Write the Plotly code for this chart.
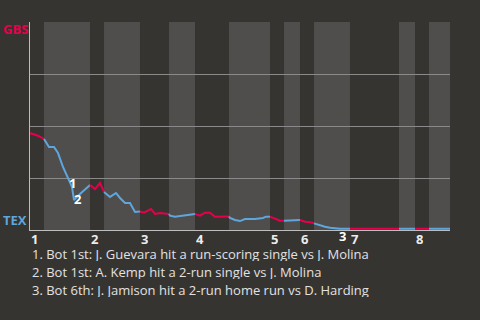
import plotly.graph_objects as go

# Half-inning boundaries (play index units); top halves = GBS batting, bottom halves = TEX batting
half_starts = [0.0, 3.0, 12.86, 15.86, 23.57, 29.79, 35.36, 42.64, 51.43, 54.43, 57.86, 60.86, 68.57, 79.07, 82.5, 85.5]
game_end = 90.0
inning_labels = ["1", "2", "3", "4", "5", "6", "7", "8"]

# GBS win probability by play
play_x = [0.0, 0.64, 1.71, 2.79, 3.0,
          3.21, 4.07, 5.14, 6.0, 7.07, 8.14, 9.0, 9.43, 10.71, 12.86,
          13.93, 15.0, 15.86,
          17.14, 18.43, 19.29, 20.36, 21.43, 22.5, 23.57,
          24.43, 25.07, 25.93, 26.79, 27.86, 29.79,
          30.0, 31.07, 33.21, 34.29, 35.36,
          36.43, 37.5, 38.57, 39.64, 41.36, 42.64,
          42.86, 43.93, 45.0, 46.07, 48.21, 49.93, 50.57, 51.43,
          52.5, 53.57, 54.43,
          56.79, 57.86,
          58.93, 60.0, 60.86,
          62.14, 63.21, 64.29, 65.36, 66.43, 68.57,
          79.07, 82.5, 85.5, 90.0]
gbs_wp = [0.466, 0.462, 0.453, 0.441, 0.438,
          0.429, 0.399, 0.399, 0.370, 0.303, 0.250, 0.207, 0.144, 0.173, 0.216,
          0.197, 0.226, 0.183,
          0.159, 0.178, 0.154, 0.130, 0.130, 0.087, 0.089,
          0.083, 0.091, 0.101, 0.077, 0.082, 0.077,
          0.069, 0.064, 0.069, 0.075, 0.077,
          0.069, 0.083, 0.083, 0.064, 0.064, 0.065,
          0.058, 0.048, 0.043, 0.053, 0.053, 0.058, 0.064, 0.064,
          0.053, 0.045, 0.045,
          0.045, 0.048,
          0.040, 0.037, 0.032,
          0.022, 0.016, 0.011, 0.008, 0.006, 0.006,
          0.006, 0.006, 0.006, 0.006]

# Key plays (label positions)
event_x = [9.1, 10.2, 66.9]
event_wp = [0.225, 0.150, 0.006]
event_shift = [0, 0, -7]
event_labels = ["1", "2", "3"]
notes = [
    "1. Bot 1st: J. Guevara hit a run-scoring single vs J. Molina",
    "2. Bot 1st: A. Kemp hit a 2-run single vs J. Molina",
    "3. Bot 6th: J. Jamison hit a 2-run home run vs D. Harding",
]

BG = "#363431"
BAND = "#4f4e4c"
RED = "#e6004c"
BLUE = "#5fa6dc"
FONT = "Open Sans"

W, H = 480, 320
ml, mr, mt, mb = 30, 30, 22, 90
pw, ph = W - ml - mr, H - mt - mb


def px_x(x):
    return (x - ml) / pw


def px_y(y):
    return (H - mb - y) / ph


fig = go.Figure()

ends = half_starts[1:] + [game_end]
shapes = []
for i, (s, e) in enumerate(zip(half_starts, ends)):
    if i % 2 == 1:
        shapes.append(dict(type="rect", xref="x", yref="y", x0=s, x1=e, y0=0, y1=1,
                           fillcolor=BAND, line=dict(width=0), layer="below"))
    xs = [x for x in play_x if s - 1e-9 <= x <= e + 1e-9]
    ys = [y for x, y in zip(play_x, gbs_wp) if s - 1e-9 <= x <= e + 1e-9]
    fig.add_trace(go.Scatter(x=xs, y=ys, mode="lines",
                             line=dict(color=RED if i % 2 == 0 else BLUE, width=2),
                             hoverinfo="skip", showlegend=False))

annotations = []
for lab, s in zip(inning_labels, half_starts[0::2]):
    annotations.append(dict(x=s, y=0, xref="x", yref="y", text=lab, showarrow=False,
                            xanchor="left", yanchor="middle", yshift=-8.5,
                            height=12, borderpad=0, valign="middle",
                            font=dict(family=FONT, size=13, color="#ececec", weight="bold")))
for lab, ex, ey, sh in zip(event_labels, event_x, event_wp, event_shift):
    annotations.append(dict(x=ex, y=ey, xref="x", yref="y", text=lab, showarrow=False,
                            xanchor="center", yanchor="middle", yshift=sh,
                            height=12, borderpad=0, valign="middle",
                            font=dict(family=FONT, size=13, color="#ffffff", weight="bold")))
for k, t in enumerate(notes):
    annotations.append(dict(x=px_x(31), y=px_y(254 + 18 * k), xref="paper", yref="paper", text=t,
                            showarrow=False, xanchor="left", yanchor="middle",
                            height=14, borderpad=0, valign="middle",
                            font=dict(family=FONT, size=13, color="#e2e2e2")))
annotations.append(dict(x=px_x(1), y=px_y(29), xref="paper", yref="paper", text="GBS", showarrow=False,
                        xanchor="left", yanchor="middle",
                        font=dict(family=FONT, size=13, color=RED, weight="bold")))
annotations.append(dict(x=px_x(1), y=px_y(220), xref="paper", yref="paper", text="TEX", showarrow=False,
                        xanchor="left", yanchor="middle",
                        font=dict(family=FONT, size=13, color=BLUE, weight="bold")))

fig.update_layout(
    width=W, height=H,
    margin=dict(l=ml, r=mr, t=mt, b=mb),
    paper_bgcolor=BG, plot_bgcolor=BG,
    shapes=shapes, annotations=annotations,
    xaxis=dict(range=[0, game_end], showgrid=False, zeroline=False, showticklabels=False,
               ticks="", showline=True, linecolor="#bdbdbd", linewidth=1, fixedrange=True),
    yaxis=dict(range=[0, 1], tickvals=[0, 0.25, 0.5, 0.75, 1], showticklabels=False,
               showgrid=True, gridcolor="#8a8a8a", gridwidth=1, zeroline=False, ticks="",
               showline=True, linecolor="#bdbdbd", linewidth=1, fixedrange=True),
    font=dict(family=FONT),
)

fig.write_html("out.html", config={"displayModeBar": False})
